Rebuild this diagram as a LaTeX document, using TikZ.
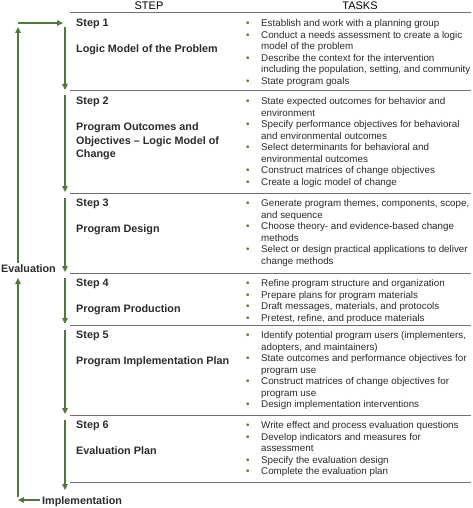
\documentclass[tikz,border=0pt]{standalone}
\usepackage{fontspec}
\setmainfont{Liberation Sans}
\usetikzlibrary{arrows.meta}
\definecolor{grn}{HTML}{4F7A3A}
\definecolor{rulec}{HTML}{707070}
\definecolor{txt}{HTML}{2A2A2A}
\newcommand{\bul}{\makebox[15pt][l]{\textcolor{grn}{\textbullet}}}
\newcommand{\ind}{\hspace*{15pt}}
\newcommand{\fst}{\rule{0pt}{9pt}}
\begin{document}
\begin{tikzpicture}[x=1pt,y=-1pt,
  arr/.style={draw=grn, line width=1.2pt, -{Triangle[width=5.5pt,length=6pt]}},
  rl/.style={draw=rulec, line width=1pt},
  head/.style={font=\fontsize{11}{13}\selectfont, text=black, inner sep=0pt, anchor=base},
  steplab/.style={font=\fontsize{10.8}{13.5}\selectfont\bfseries, text=txt, inner sep=0pt, anchor=base west, align=left},
  steptitle/.style={font=\fontsize{10.8}{13.5}\selectfont\bfseries, text=txt, inner sep=0pt, anchor=north west, align=left},
  tasks/.style={font=\fontsize{9.8}{11.5}\selectfont, text=txt, inner sep=0pt, anchor=north west, align=left},
  side/.style={font=\fontsize{10.8}{13}\selectfont\bfseries, text=txt, inner sep=0pt}]
\useasboundingbox (0,0) rectangle (472,508);

% header
\node[head] (hstep) at (149,10) {STEP};
\node[head] (htask) at (360,10) {TASKS};

% rules
\foreach \yy/\nm in {13/d0,91/d1,193/d2,273/d3,325/d4,415/d5,482/d6}{
  \coordinate (\nm l) at (70,\yy);
  \coordinate (\nm r) at (471,\yy);
  \draw[rl] (\nm l) -- (\nm r);
}

% step labels
\node[steplab] (s1) at (76,26.5) {Step 1};
\node[steplab] (t1) at (76,52.5) {Logic Model of the Problem};
\node[steplab] (s2) at (76,104.5) {Step 2};
\node[steptitle] (t2) at (76,121.5) {\fst Program Outcomes and\\Objectives -- Logic Model of\\Change};
\node[steplab] (s3) at (76,206.5) {Step 3};
\node[steplab] (t3) at (76,232.5) {Program Design};
\node[steplab] (s4) at (76,286.5) {Step 4};
\node[steplab] (t4) at (76,312.5) {Program Production};
\node[steplab] (s5) at (76,338.5) {Step 5};
\node[steplab] (t5) at (76,364.5) {Program Implementation Plan};
\node[steplab] (s6) at (76,428.5) {Step 6};
\node[steplab] (t6) at (76,454.5) {Evaluation Plan};

% tasks
\node[tasks] (k1) at (246,17.5) {\fst\bul Establish and work with a planning group\\
\bul Conduct a needs assessment to create a logic\\
\ind model of the problem\\
\bul Describe the context for the intervention\\
\ind including the population, setting, and community\\
\bul State program goals};
\node[tasks] (k2) at (246,95.5) {\fst\bul State expected outcomes for behavior and\\
\ind environment\\
\bul Specify performance objectives for behavioral\\
\ind and environmental outcomes\\
\bul Select determinants for behavioral and\\
\ind environmental outcomes\\
\bul Construct matrices of change objectives\\
\bul Create a logic model of change};
\node[tasks] (k3) at (246,197.5) {\fst\bul Generate program themes, components, scope,\\
\ind and sequence\\
\bul Choose theory- and evidence-based change\\
\ind methods\\
\bul Select or design practical applications to deliver\\
\ind change methods};
\node[tasks] (k4) at (246,277.5) {\fst\bul Refine program structure and organization\\
\bul Prepare plans for program materials\\
\bul Draft messages, materials, and protocols\\
\bul Pretest, refine, and produce materials};
\node[tasks] (k5) at (246,329.5) {\fst\bul Identify potential program users (implementers,\\
\ind adopters, and maintainers)\\
\bul State outcomes and performance objectives for\\
\ind program use\\
\bul Construct matrices of change objectives for\\
\ind program use\\
\bul Design implementation interventions};
\node[tasks] (k6) at (246,419.5) {\fst\bul Write effect and process evaluation questions\\
\bul Develop indicators and measures for\\
\ind assessment\\
\bul Specify the evaluation design\\
\bul Complete the evaluation plan};

% side labels
\node[side, anchor=base east] (ev) at (56,272) {Evaluation};
\node[side, anchor=base west] (im) at (42,504) {Implementation};

% step arrows
\coordinate (a1) at (65,27);   \coordinate (b1) at (65,90);
\coordinate (a2) at (65,95.5); \coordinate (b2) at (65,192);
\coordinate (a3) at (65,197.5);\coordinate (b3) at (65,272);
\coordinate (a4) at (65,277.5);\coordinate (b4) at (65,324);
\coordinate (a5) at (65,329.5);\coordinate (b5) at (65,414);
\coordinate (a6) at (65,419.5);\coordinate (b6) at (65,490);
\foreach \i in {1,...,6}{\draw[arr] (a\i) -- (b\i);}

% loop
\coordinate (lt) at (18,23);
\coordinate (rt) at (63,23);
\coordinate (ltop) at (18,27);
\coordinate (lmid1) at (18,263);
\coordinate (lmid2) at (18,278);
\coordinate (lbot) at (18,497);
\coordinate (lbotp) at (18,500);
\draw[arr] (lt) -- (rt);
\draw[arr] (lmid1) -- (ltop);
\draw[arr] (lbot) -- (lmid2);
\draw[arr] (im.west |- lbotp) ++(-2,0) coordinate (imw) (imw) -- (lbotp);
\end{tikzpicture}
\end{document}
